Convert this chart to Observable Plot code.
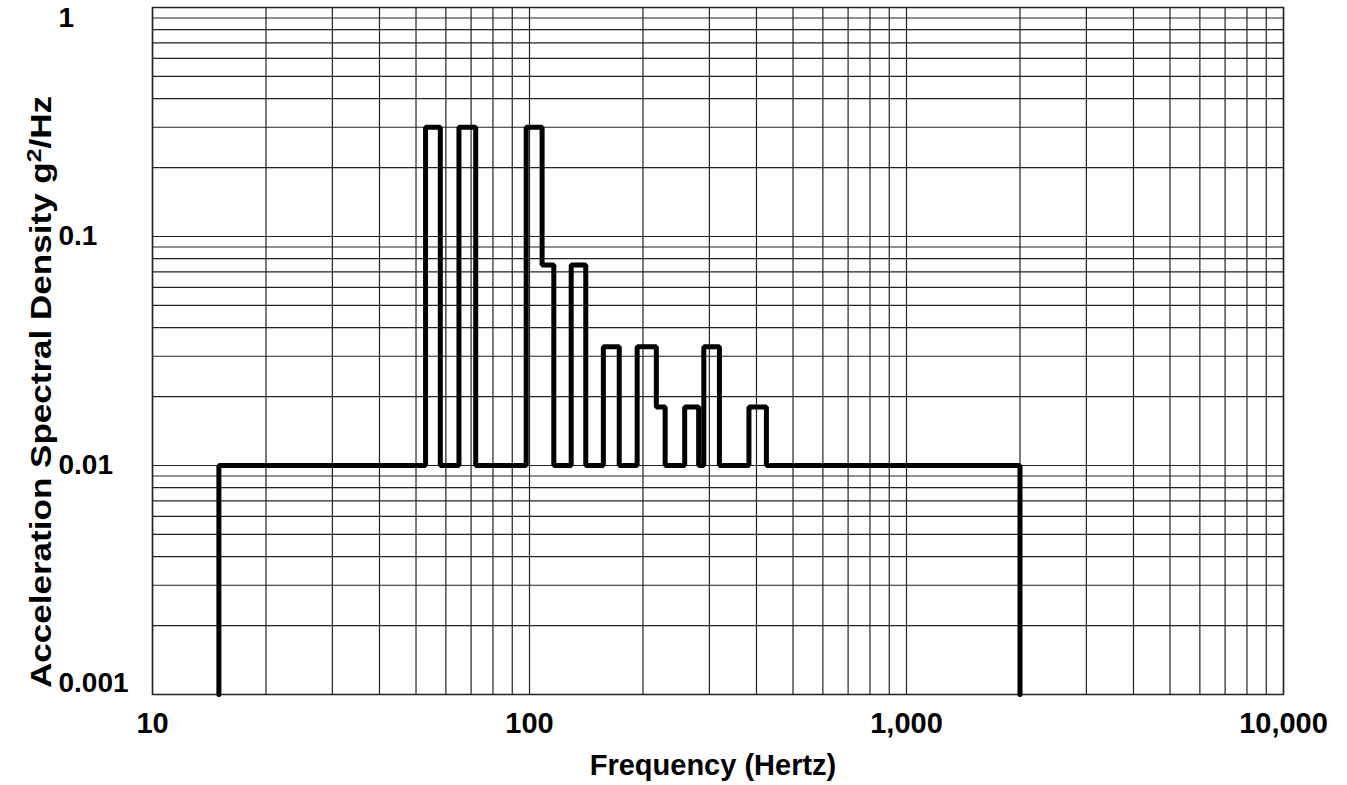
<!DOCTYPE html>
<html>
<head>
<meta charset="utf-8">
<script src="https://cdn.jsdelivr.net/npm/d3@7"></script>
<script src="https://cdn.jsdelivr.net/npm/@observablehq/plot@0.6"></script>
<style>
  body { margin: 0; background: #fff; }
  svg { font-family: "Liberation Sans", Arial, sans-serif; }
</style>
</head>
<body>
<div id="chart"></div>
<script>
// Step profile: frequency breakpoints (Hz) and ASD level (g^2/Hz) held until next breakpoint
const freqs  = [15, 15, 53, 58, 65, 72, 98, 108, 116, 129, 141, 157, 173, 193, 217, 229, 258, 281, 290, 319, 382, 425, 2000, 2000];
const levels = [0.001, 0.01, 0.3, 0.01, 0.3, 0.01, 0.3, 0.075, 0.01, 0.075, 0.01, 0.033, 0.01, 0.033, 0.018, 0.01, 0.018, 0.01, 0.033, 0.01, 0.018, 0.01, 0.01, 0.001];

const xTicks = [10, 100, 1000, 10000];
const xTickLabels = ["10", "100", "1,000", "10,000"];
const yTicks = [0.001, 0.01, 0.1, 1];
const yTickLabels = ["0.001", "0.01", "0.1", "1"];
const mantissas = [1, 2, 3, 4, 5, 6, 7, 8, 9];
const xDecades = [10, 100, 1000];
const yDecades = [0.001, 0.01, 0.1];

const xGrid = xDecades.flatMap(d => mantissas.map(m => m * d)).concat([10000]);
const yGrid = yDecades.flatMap(d => mantissas.map(m => m * d)).concat([1]);

const data = freqs.map((f, i) => ({f, v: levels[i]}));
const yLab = yTicks.map((v, i) => ({v, label: yTickLabels[i]}));

const labStyle = {x: () => 10, y: "v", text: "label", textAnchor: "start", dx: -94, fontSize: 28, fontWeight: "bold", fill: "#000"};

const chart = Plot.plot({
  width: 1347,
  height: 785,
  marginLeft: 152,
  marginRight: 64,
  marginTop: 7,
  marginBottom: 91,
  style: {fontFamily: "Liberation Sans, Arial, sans-serif", background: "#fff", overflow: "visible"},
  x: {type: "log", domain: [10, 10000], axis: null},
  y: {type: "log", domain: [0.001, 1], axis: null},
  marks: [
    Plot.ruleX(xGrid, {stroke: "#222", strokeWidth: 1.2}),
    Plot.ruleY(yGrid, {stroke: "#222", strokeWidth: 1.2}),
    Plot.axisX({ticks: xTicks, tickSize: 0, tickPadding: 18, tickFormat: (d) => xTickLabels[xTicks.indexOf(d)], fontSize: 29, fontWeight: "bold", fill: "#000", label: null}),
    Plot.text(yLab, {...labStyle, filter: d => d.v > 0.002 && d.v < 0.5}),
    Plot.text(yLab, {...labStyle, filter: d => d.v >= 0.5, dy: 11}),
    Plot.text(yLab, {...labStyle, filter: d => d.v <= 0.002, dy: -11}),
    Plot.frame({stroke: "#222", strokeWidth: 1.5}),
    Plot.line(data, {x: "f", y: "v", curve: "step-after", stroke: "#000", strokeWidth: 5, strokeLinejoin: "miter"})
  ]
});

document.getElementById("chart").appendChild(chart);

const svg = d3.select(chart);
svg.append("text")
  .attr("x", 713).attr("y", 775)
  .attr("text-anchor", "middle")
  .attr("font-size", 29).attr("font-weight", "bold").attr("fill", "#000")
  .text("Frequency (Hertz)");

const yl = svg.append("text")
  .attr("transform", "translate(51,392) rotate(-90)")
  .attr("text-anchor", "middle")
  .attr("font-size", 30).attr("font-weight", "bold").attr("fill", "#000")
  .attr("textLength", 592).attr("lengthAdjust", "spacingAndGlyphs");
yl.append("tspan").text("Acceleration Spectral Density g");
yl.append("tspan").attr("dy", -10).attr("font-size", 21).text("2");
yl.append("tspan").attr("dy", 10).text("/Hz");
</script>
</body>
</html>
